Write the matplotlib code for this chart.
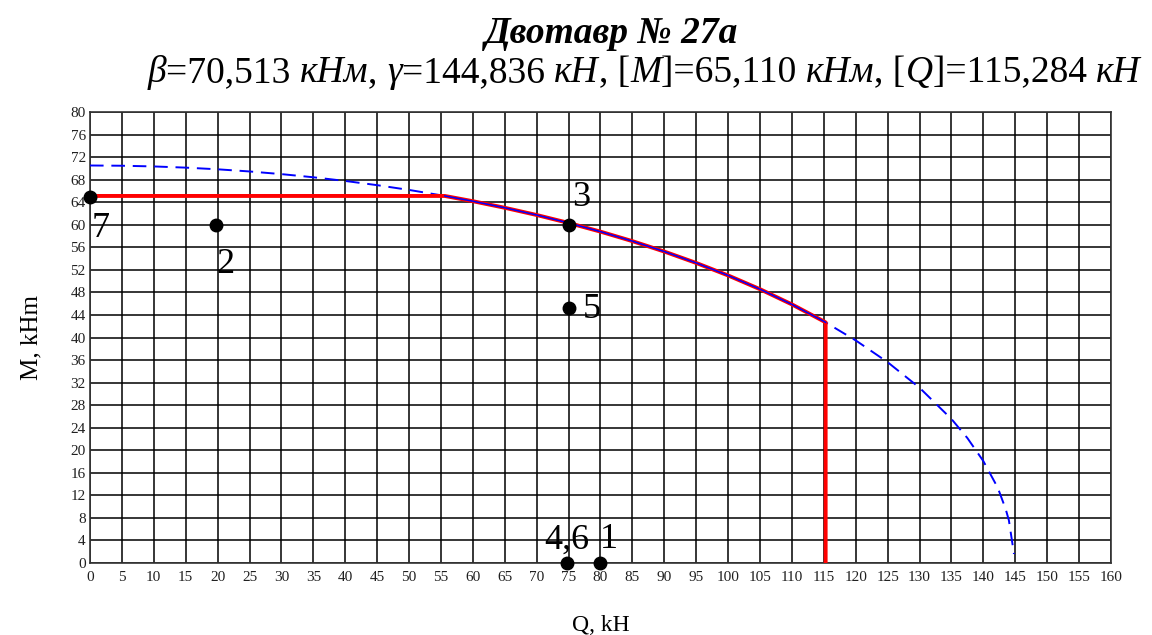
import numpy as np
import matplotlib
matplotlib.use("Agg")
import matplotlib.pyplot as plt

plt.rcParams['font.family'] = ['Liberation Serif', 'DejaVu Serif']

# interaction curve M(Q), kNm vs kN
curve_q = [0, 5, 10, 15, 20, 25, 30, 35, 40, 45, 50, 55, 60, 65, 70, 75, 80, 85,
           90, 95, 100, 105, 110, 115, 120, 125, 130, 135, 137.5, 140, 142, 142.5,
           143.5, 144, 144.8]
curve_m = [70.513, 70.471, 70.345, 70.134, 69.838, 69.455, 68.984, 68.423, 67.771,
           67.023, 66.178, 65.231, 64.178, 63.013, 61.731, 60.323, 58.780, 57.093,
           55.247, 53.226, 51.009, 48.569, 45.871, 42.866, 39.484, 35.618, 31.088,
           25.542, 22.157, 18.069, 13.886, 12.613, 9.555, 7.565, 1.6]

# allowable region boundary
env_q = [0, 55.602, 60, 65, 70, 75, 80, 85, 90, 95, 100, 105, 110, 115, 115.284, 115.284]
env_m = [65.110, 65.110, 64.178, 63.013, 61.731, 60.323, 58.780, 57.093, 55.247,
         53.226, 51.009, 48.569, 45.871, 42.866, 42.685, 0]

# load cases
pt_q = [80, 19.7, 75, 74.8, 75, 0]
pt_m = [0, 60, 60, 0, 45.3, 65]
pt_lab = ["1", "2", "3", "4,6", "5", "7"]
lab_off = [(8, 23), (10, -40), (13, 27), (0, 23), (23, -2), (11, -32)]

fig = plt.figure(figsize=(11.52, 6.35), dpi=100)
ax = fig.add_axes([0.0781, 0.1134, 0.8863, 0.7102])

ax.plot(curve_q, curve_m, color='#0000ff', lw=1.4, dashes=(7, 4), zorder=3)
ax.plot(env_q, env_m, color='#ff0000', lw=2.8, zorder=4)
ax.plot(env_q[1:-1], env_m[1:-1], color='#0000ff', lw=1.1, zorder=5)

ax.plot(pt_q, pt_m, 'o', color='black', ms=9, clip_on=False, zorder=6)
for q, m, s, off in zip(pt_q, pt_m, pt_lab, lab_off):
    ax.annotate(s, (q, m), xytext=off, textcoords='offset pixels', fontsize=26,
                ha='center', va='center', zorder=7, annotation_clip=False)

ax.set_xlim(0, 160)
ax.set_ylim(0, 80)
ax.set_xticks(np.arange(0, 161, 5))
ax.set_yticks(np.arange(0, 81, 4))
ax.grid(True, color='black', lw=1.1)
ax.set_axisbelow(True)
ax.tick_params(length=0, labelsize=11, colors='#202020')
ax.tick_params(axis='x', pad=6)
ax.tick_params(axis='y', pad=3)
for sp in ax.spines.values():
    sp.set_linewidth(1.2)
    sp.set_color('#333333')

ax.set_xlabel("Q, kH", fontsize=17, labelpad=22)
ax.set_ylabel("M, kHm", fontsize=18, labelpad=20)

fig.text(0.531, 0.947, "Двотавр № 27a", fontsize=27, fontweight='bold',
         fontstyle='italic', ha='center', va='center')

pieces = [("β", 'italic'), ("=70,513 ", 'normal'), ("кНм", 'italic'), (", ", 'normal'),
          ("γ", 'italic'), ("=144,836 ", 'normal'), ("кН", 'italic'), (", [", 'normal'),
          ("M", 'italic'), ("]=65,110 ", 'normal'), ("кНм", 'italic'), (", [", 'normal'),
          ("Q", 'italic'), ("]=115,284 ", 'normal'), ("кН", 'italic')]
renderer = fig.canvas.get_renderer()
x = 0.128
for s, st in pieces:
    t = fig.text(x, 0.871, s, fontsize=27, fontstyle=st, ha='left', va='baseline')
    x += t.get_window_extent(renderer).width / fig.bbox.width

fig.savefig("out.png", dpi=100)
